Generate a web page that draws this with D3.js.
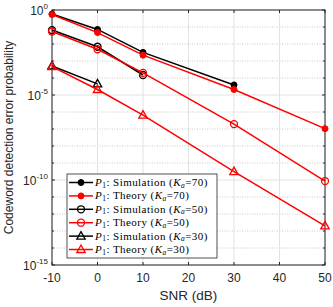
<!DOCTYPE html>
<html>
<head>
<meta charset="utf-8">
<script src="https://cdn.jsdelivr.net/npm/d3@7"></script>
<style>
  body { margin: 0; background: #fff; }
  svg { display: block; }
</style>
</head>
<body>
<div id="chart"></div>
<script>
// data
var xTicks = [-10, 0, 10, 20, 30, 40, 50];
var yMajor = [0, -5, -10, -15];
var sim70 = [[-10, 0.58], [0, 0.072], [10, 0.0032], [30, 0.000039]];
var theory70 = [[-10, 0.54], [0, 0.047], [10, 0.0022], [30, 0.000021], [50, 1.05e-7]];
var sim50 = [[-10, 0.066], [0, 0.0069], [10, 0.00015]];
var theory50 = [[-10, 0.054], [0, 0.0049], [10, 0.0002], [30, 1.95e-7], [50, 8.7e-11]];
var sim30 = [[-10, 0.00051], [0, 0.000045]];
var theory30 = [[-10, 0.00047], [0, 0.000021], [10, 6.6e-7], [30, 3.1e-10], [50, 2.0e-13]];
var labelNames = ["Simulation", "Theory", "Simulation", "Theory", "Simulation", "Theory"];
var labelKa = [70, 70, 50, 50, 30, 30];

function init(){
  var W = 333, H = 307;
  var m = {left: 52, right: 8, top: 10, bottom: 42};
  var w = W - m.left - m.right, h = H - m.top - m.bottom;

  var svg = d3.select("#chart").append("svg")
    .attr("width", W).attr("height", H)
    .style("font-family", "Arial, 'Liberation Sans', sans-serif");
  var g = svg.append("g").attr("transform", "translate(" + m.left + "," + m.top + ")");

  var x = d3.scaleLinear().domain([-10, 50]).range([0, w]);
  var y = d3.scaleLog().domain([1e-15, 1]).range([h, 0]);

  // grid
  var decades = d3.range(-15, 1);
  g.selectAll(".ming").data(decades.filter(function(d){ return yMajor.indexOf(d) < 0; }))
    .enter().append("line")
      .attr("x1", 0).attr("x2", w)
      .attr("y1", function(d){ return y(Math.pow(10, d)); })
      .attr("y2", function(d){ return y(Math.pow(10, d)); })
      .attr("stroke", "#bbb").attr("stroke-width", 0.8).attr("stroke-dasharray", "1,1.5");
  g.selectAll(".majg").data(yMajor).enter().append("line")
      .attr("x1", 0).attr("x2", w)
      .attr("y1", function(d){ return y(Math.pow(10, d)); })
      .attr("y2", function(d){ return y(Math.pow(10, d)); })
      .attr("stroke", "#e2e2e2").attr("stroke-width", 1);
  g.selectAll(".xg").data(xTicks).enter().append("line")
      .attr("x1", function(d){ return x(d); }).attr("x2", function(d){ return x(d); })
      .attr("y1", 0).attr("y2", h)
      .attr("stroke", "#e2e2e2").attr("stroke-width", 1);

  // frame + ticks
  g.append("rect").attr("width", w).attr("height", h)
    .attr("fill", "none").attr("stroke", "#262626").attr("stroke-width", 1);
  xTicks.forEach(function(d){
    g.append("line").attr("x1", x(d)).attr("x2", x(d)).attr("y1", h).attr("y2", h - 3).attr("stroke", "#262626");
    g.append("line").attr("x1", x(d)).attr("x2", x(d)).attr("y1", 0).attr("y2", 3).attr("stroke", "#262626");
    g.append("text").attr("x", x(d)).attr("y", h + 17)
      .attr("text-anchor", "middle").attr("font-size", 12).attr("fill", "#262626").text(d);
  });
  decades.forEach(function(d){
    var len = yMajor.indexOf(d) < 0 ? 2 : 3;
    var yy = y(Math.pow(10, d));
    g.append("line").attr("x1", 0).attr("x2", len).attr("y1", yy).attr("y2", yy).attr("stroke", "#262626");
    g.append("line").attr("x1", w).attr("x2", w - len).attr("y1", yy).attr("y2", yy).attr("stroke", "#262626");
  });
  yMajor.forEach(function(d){
    var t = g.append("text").attr("x", -4).attr("y", y(Math.pow(10, d)) + 4.5)
      .attr("text-anchor", "end").attr("font-size", 12).attr("fill", "#262626");
    t.append("tspan").text("10");
    t.append("tspan").attr("dy", -6).attr("font-size", 8).text(d);
  });

  // axis titles
  g.append("text").attr("x", w / 2).attr("y", h + 35).attr("text-anchor", "middle")
    .attr("font-size", 13.5).attr("fill", "#262626").text("SNR (dB)");
  g.append("text").attr("transform", "rotate(-90)")
    .attr("x", -h / 2).attr("y", -39).attr("text-anchor", "middle")
    .attr("font-size", 12).attr("fill", "#262626").text("Codeword detection error probability");

  // series
  var series = [
    {d: sim70, c: "#000", mk: "dot"},
    {d: theory70, c: "#ff0000", mk: "dot"},
    {d: sim50, c: "#000", mk: "circle"},
    {d: theory50, c: "#ff0000", mk: "circle"},
    {d: sim30, c: "#000", mk: "tri"},
    {d: theory30, c: "#ff0000", mk: "tri"}
  ];
  var line = d3.line().x(function(p){ return x(p[0]); }).y(function(p){ return y(p[1]); });

  function marker(sel, s, px, py){
    if (s.mk === "dot") {
      sel.append("circle").attr("cx", px).attr("cy", py).attr("r", 3)
        .attr("fill", s.c).attr("stroke", s.c).attr("stroke-width", 1);
    } else if (s.mk === "circle") {
      sel.append("circle").attr("cx", px).attr("cy", py).attr("r", 3.5)
        .attr("fill", "none").attr("stroke", s.c).attr("stroke-width", 1.3);
    } else {
      sel.append("path").attr("transform", "translate(" + px + "," + py + ")")
        .attr("d", "M0,-4.5L4.2,3L-4.2,3Z")
        .attr("fill", "none").attr("stroke", s.c).attr("stroke-width", 1.3);
    }
  }

  series.forEach(function(s){
    g.append("path").datum(s.d).attr("d", line)
      .attr("fill", "none").attr("stroke", s.c).attr("stroke-width", 1.5);
    s.d.forEach(function(p){ marker(g, s, x(p[0]), y(p[1])); });
  });

  // legend
  var lg = svg.append("g").attr("transform", "translate(67,174)");
  lg.append("rect").attr("width", 150).attr("height", 84)
    .attr("fill", "#fff").attr("stroke", "#262626").attr("stroke-width", 0.8);
  series.forEach(function(s, i){
    var yy = 8.5 + i * 13.4;
    lg.append("line").attr("x1", 2).attr("x2", 26).attr("y1", yy).attr("y2", yy)
      .attr("stroke", s.c).attr("stroke-width", 1.5);
    marker(lg, s, 14, yy);
    var t = lg.append("text").attr("x", 28).attr("y", yy + 3.5)
      .attr("font-family", "'Liberation Serif', 'DejaVu Serif', serif")
      .attr("font-size", 11).attr("letter-spacing", 0.45).attr("fill", "#000");
    t.append("tspan").attr("font-style", "italic").text("P");
    t.append("tspan").attr("dy", 1.5).attr("font-size", 7.5).text("1");
    t.append("tspan").attr("dy", -1.5).text(": " + labelNames[i] + " (");
    t.append("tspan").attr("font-style", "italic").text("K");
    t.append("tspan").attr("dy", 1.5).attr("font-size", 7.5).attr("font-style", "italic").text("a");
    t.append("tspan").attr("dy", -1.5).text("=" + labelKa[i] + ")");
  });
}
window.onload = init;
</script>
</body>
</html>
